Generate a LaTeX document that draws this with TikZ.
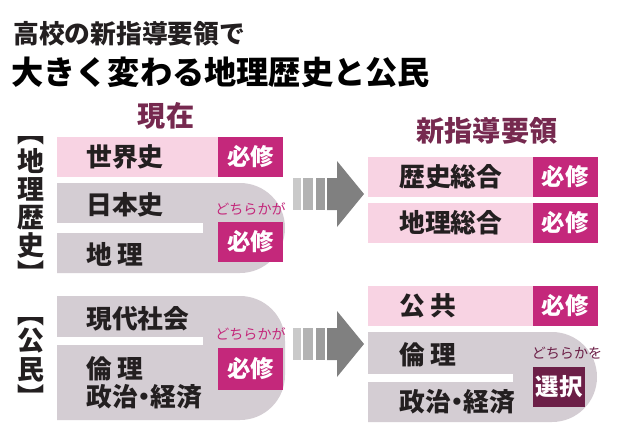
\documentclass[tikz,border=0pt]{standalone}
\usepackage{fontspec}
\setmainfont{Noto Sans CJK JP}
\usetikzlibrary{positioning}
\definecolor{bandpink}{HTML}{F8D3E3}
\definecolor{tagmagenta}{HTML}{C4287B}
\definecolor{groupgray}{HTML}{D4CDD3}
\definecolor{headmaroon}{HTML}{76294F}
\definecolor{selmaroon}{HTML}{6C1F47}
\definecolor{inkblack}{HTML}{231F20}
\definecolor{stripeA}{HTML}{C9C9C9}
\definecolor{stripeB}{HTML}{B3B3B3}
\definecolor{stripeC}{HTML}{9D9D9D}
\definecolor{arrowbody}{HTML}{808080}
\tikzset{
  subject/.style={
    anchor=west,
    inner sep=0pt,
    text=inkblack,
    font=\fontsize{22}{24}\selectfont\bfseries,
  },
  tag/.style={
    fill=tagmagenta,
    text=white,
    inner sep=0pt,
    minimum width=1.95cm,
    minimum height=1.2cm,
    font=\fontsize{20}{20}\selectfont\bfseries,
  },
  seltag/.style={tag, fill=selmaroon, minimum width=1.56cm},
  either/.style={inner sep=0pt, text=tagmagenta, font=\fontsize{12}{12}\selectfont},
  colhead/.style={inner sep=0pt, text=headmaroon, font=\fontsize{24}{24}\selectfont\bfseries},
  vhead/.style={inner sep=0pt, align=center, text=inkblack, font=\fontsize{23}{24}\selectfont\bfseries},
}
\newcommand{\fatarrow}[1]{% #1: y of the arrow axis
  \begin{scope}[shift={(293,#1)}]
    \fill[stripeA] (0,-16) rectangle (8,16);
    \fill[stripeB] (10,-16) rectangle (20,16);
    \fill[stripeC] (23,-16) rectangle (32,16);
    \fill[arrowbody] (34,-16) -- (44,-16) -- (44,-33) -- (71,0) -- (44,33) -- (44,16) -- (34,16) -- cycle;
  \end{scope}%
}

\begin{document}
\begin{tikzpicture}[x=0.03cm, y=-0.03cm]
\useasboundingbox[fill=white] (0,0) rectangle (620,446);

% Title
\node[anchor=west, inner sep=0pt, text=inkblack, font=\fontsize{22}{22}\selectfont\bfseries] (title1) at (13,34) {高校の新指導要領で};
\node[anchor=west, inner sep=0pt, text=black, font=\fontsize{27.5}{28}\selectfont\bfseries] (title2) at (11,72) {大きく変わる地理歴史と公民};

% Column heads
\node[colhead] (nowhead) at (166,116) {現在};
\node[colhead] (newhead) at (487,131) {新指導要領};

% Geography-history, now
\node[vhead] (chireki) at (31,203) {地\\理\\歴\\史};
\node[vhead, above=2pt of chireki] (chiopen) {︻};
\node[vhead, below=2pt of chireki] (chiclose) {︼};
\fill[bandpink] (57,137) rectangle (283,177);
\node[tag] (sekaitag) at (250.5,157) {必修};
\node[subject] (sekai) at (86,157) {世界史};
\fill[groupgray] (57,183) -- (240,183) arc[start angle=90, end angle=-90, radius=1.35cm] -- (57,273) -- cycle;
\fill[white] (57,223) rectangle (203,233);
\node[subject] (nihon) at (86,205) {日本史};
\node[subject] (chiri) at (86,254) {地 理};
\node[tag] (chiritag) at (250.5,242) {必修};
\node[either, above=5pt of chiritag] (chirieither) {どちらかが};

% Geography-history, new
\fill[bandpink] (368,157) rectangle (597,197);
\node[tag] (rekishitag) at (565,177) {必修};
\node[subject] (rekishi) at (399,177) {歴史総合};
\fill[bandpink] (368,203) rectangle (597,243);
\node[tag] (sogotag) at (565,223) {必修};
\node[subject] (chirisogo) at (399,223) {地理総合};

% Civics, now
\node[vhead] (komin) at (31,355) {公\\民};
\node[vhead, above=2pt of komin] (kominopen) {︻};
\node[vhead, below=2pt of komin] (kominclose) {︼};
\fill[groupgray] (57,296) -- (240,296) arc[start angle=90, end angle=0, radius=1.35cm] -- (285,375) arc[start angle=0, end angle=-90, radius=1.35cm] -- (57,420) -- cycle;
\fill[white] (57,337) rectangle (203,345);
\node[subject] (gendai) at (86,319) {現代社会};
\node[subject, align=left] (rinseikei) at (86,383) {倫 理\\政治\kern-.25em・\kern-.25em経済};
\node[tag, minimum height=1.26cm] (rinritag) at (250.5,369) {必修};
\node[either, above=6pt of rinritag] (rinrieither) {どちらかが};

% Civics, new
\fill[bandpink] (368,286) rectangle (597,326);
\node[tag] (kokyotag) at (565,306) {必修};
\node[subject] (kokyo) at (399,306) {公 共};
\fill[groupgray] (368,332) -- (552,332) arc[start angle=90, end angle=-90, radius=1.35cm] -- (368,422) -- cycle;
\fill[white] (368,374) rectangle (513,382);
\node[subject] (rinri) at (399,355) {倫 理};
\node[subject] (seikei) at (399,402) {政治\kern-.25em・\kern-.25em経済};
\node[seltag] (sentaku) at (559,387) {選択};
\node[either, text=selmaroon] (selnote) at (567,353) {どちらかを};

% Arrows
\fatarrow{194}
\fatarrow{344}

\end{tikzpicture}
\end{document}
